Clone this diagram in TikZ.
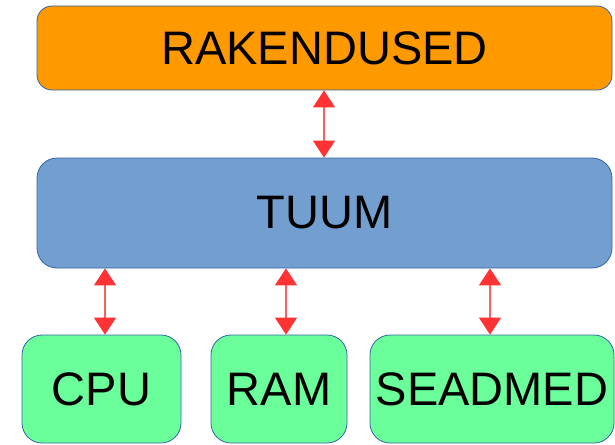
\documentclass[tikz,border=0pt]{standalone}
\usepackage{fontspec}
\setmainfont{Liberation Sans}
\usetikzlibrary{arrows.meta}
\definecolor{layerorange}{HTML}{FF9900}
\definecolor{layerblue}{HTML}{729FCF}
\definecolor{layergreen}{HTML}{6BFF9B}
\definecolor{edgeblue}{HTML}{3465A4}
\definecolor{linkred}{HTML}{FF3333}
\definecolor{shaftred}{HTML}{FF5E5E}
\begin{document}
\begin{tikzpicture}[x=1pt,y=-1pt,
  layer/.style={draw=edgeblue, line width=0.8pt, rectangle, inner sep=0pt,
    font=\fontsize{47}{50}\selectfont, text=black},
  link/.style={draw=shaftred, line width=1.4pt,
    {Triangle[width=22pt,length=17pt,color=linkred]}-{Triangle[width=22pt,length=17pt,color=linkred]}}]
  \useasboundingbox (0,0) rectangle (615,444);
  % layers
  \node[layer, fill=layerorange, rounded corners=15pt, minimum width=575pt, minimum height=84pt]
    (apps) at (324.5,48) {RAKENDUSED};
  \node[layer, fill=layerblue, rounded corners=20pt, minimum width=575pt, minimum height=110pt]
    (core) at (324.5,213) {TUUM};
  \node[layer, fill=layergreen, rounded corners=20pt, minimum width=159pt, minimum height=108pt]
    (cpu) at (101.5,389) {CPU};
  \node[layer, fill=layergreen, rounded corners=20pt, minimum width=136pt, minimum height=108pt]
    (ram) at (279,389) {RAM};
  \node[layer, fill=layergreen, rounded corners=20pt, minimum width=244pt, minimum height=108pt]
    (dev) at (492,389) {SEADMED};
  % connector columns
  \coordinate (c0) at (324,0);
  \coordinate (c1) at (105,0);
  \coordinate (c2) at (286,0);
  \coordinate (c3) at (490,0);
  % links
  \draw[link] (apps.south -| c0) -- (core.north -| c0);
  \draw[link] (core.south -| c1) -- (cpu.north -| c1);
  \draw[link] (core.south -| c2) -- (ram.north -| c2);
  \draw[link] (core.south -| c3) -- (dev.north -| c3);
\end{tikzpicture}
\end{document}
